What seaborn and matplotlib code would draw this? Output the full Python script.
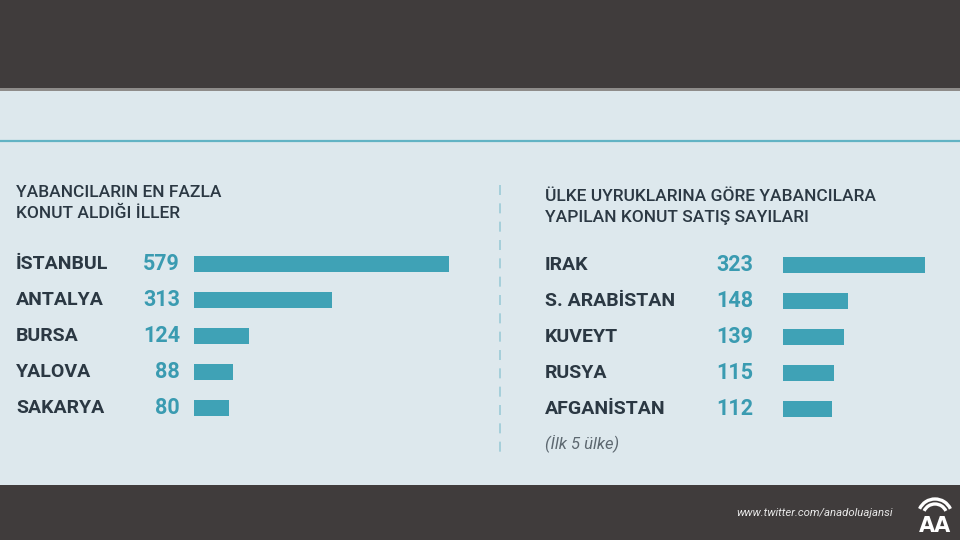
import matplotlib.pyplot as plt
import matplotlib.transforms as mtransforms
from matplotlib.patches import Rectangle, Arc
from matplotlib.lines import Line2D
import pandas as pd
import seaborn as sns

# veriler
iller = ['İSTANBUL', 'ANTALYA', 'BURSA', 'YALOVA', 'SAKARYA']
il_satis = [579, 313, 124, 88, 80]
ulkeler = ['IRAK', 'S. ARABİSTAN', 'KUVEYT', 'RUSYA', 'AFGANİSTAN']
ulke_satis = [323, 148, 139, 115, 112]

sol_baslik = 'YABANCILARIN EN FAZLA\nKONUT ALDIĞI İLLER'
sag_baslik = 'ÜLKE UYRUKLARINA GÖRE YABANCILARA\nYAPILAN KONUT SATIŞ SAYILARI'
dipnot = '(İlk 5 ülke)'
kaynak = 'www.twitter.com/anadoluajansi'

BG = '#dde8ed'
DARK = '#403c3c'
BAR = '#3fa2b6'
NUM = '#3a9bb1'
TXT = '#2b3843'

sns.set_theme(style='white')
plt.rcParams['font.family'] = ['Roboto', 'DejaVu Sans']

W, H = 960, 540
fig = plt.figure(figsize=(9.6, 5.4), dpi=100, facecolor=BG)


def px(x, y):
    # piksel -> figure orani
    return x / W, 1 - y / H


# ust ve alt koyu bantlar
fig.patches.append(Rectangle((0, 1 - 88 / H), 1, 88 / H, transform=fig.transFigure,
                             facecolor=DARK, edgecolor='none', zorder=-1))
fig.patches.append(Rectangle((0, 1 - 91 / H), 1, 3 / H, transform=fig.transFigure,
                             facecolor='#8e8c8a', edgecolor='none', zorder=-1))
fig.patches.append(Rectangle((0, 0), 1, 55 / H, transform=fig.transFigure,
                             facecolor=DARK, edgecolor='none', zorder=-1))
fig.lines.append(Line2D([0, 1], [1 - 141 / H] * 2, transform=fig.transFigure,
                        color='#62b3c4', lw=1.6))
fig.lines.append(Line2D([500 / W] * 2, [1 - 185 / H, 1 - 452 / H], transform=fig.transFigure,
                        color='#9ccbd7', lw=1.2, ls=(0, (6, 5))))

# basliklar
fig.text(*px(16, 203), sol_baslik, color=TXT, fontsize=12.5, fontweight='medium',
         va='center', linespacing=1.55)
fig.text(*px(545, 207), sag_baslik, color=TXT, fontsize=12.5, fontweight='medium',
         va='center', linespacing=1.55)
fig.text(*px(545, 443), dipnot, color='#5d6870', fontsize=12, style='italic',
         va='center')


def panel(rect, names, values, xmax, label_x, num_x):
    ax = fig.add_axes(rect)
    df = pd.DataFrame({'ad': names, 'deger': values})
    sns.barplot(data=df, x='deger', y='ad', orient='h', color=BAR, saturation=1,
                width=0.42, linewidth=0, ax=ax)
    ax.set_xlim(0, xmax)
    ax.set_ylim(4.5, -0.5)
    ax.axis('off')
    tr = mtransforms.blended_transform_factory(fig.transFigure, ax.transData)
    for i, (n, v) in enumerate(zip(names, values)):
        ax.text(label_x / W, i, n, transform=tr, ha='left', va='center',
                fontsize=14, fontweight='bold', color=TXT, clip_on=False)
        ax.text(num_x / W, i, str(v), transform=tr, ha='right', va='center',
                fontsize=15.5, fontweight='bold', color=NUM, clip_on=False)
    return ax


panel([194 / W, 114 / H, 255 / W, 180 / H], iller, il_satis, 579, 16, 180)
panel([783 / W, 113 / H, 142 / W, 180 / H], ulkeler, ulke_satis, 323, 545, 753)

# alt bant: kaynak ve logo
fig.text(*px(893, 513), kaynak, color='#e8e8e8', fontsize=8.2, style='italic',
         ha='right', va='center')
lax = fig.add_axes([913 / W, 0, 44 / W, 55 / H])
lax.set_xlim(0, 44)
lax.set_ylim(0, 55)
lax.axis('off')
lax.text(22, 14, 'AA', color='white', fontsize=15, fontweight='bold',
         ha='center', va='center', family=['DejaVu Sans'])
for r in (12, 17):
    lax.add_patch(Arc((22, 24), 2 * r, 2 * r, theta1=25, theta2=155,
                      color='white', lw=2.4))

fig.savefig('out.png', dpi=100, facecolor=BG)
